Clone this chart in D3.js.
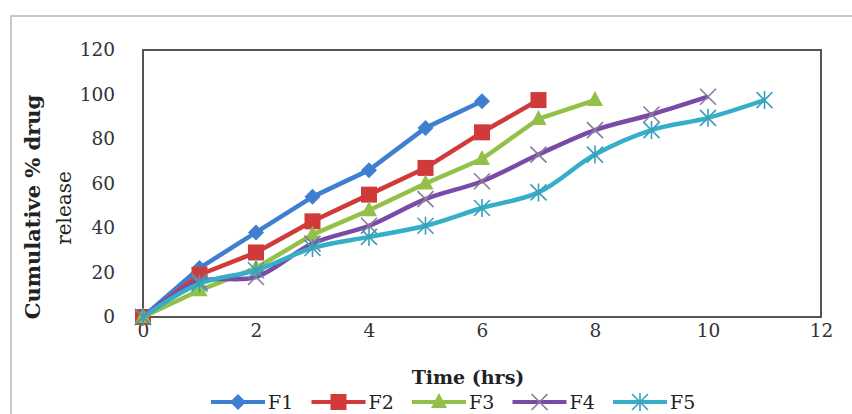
<!DOCTYPE html>
<html><head><meta charset="utf-8">
<script src="https://cdn.jsdelivr.net/npm/d3@7"></script>
<style>html,body{margin:0;padding:0;background:#fff;}svg{display:block;}</style>
</head><body>
<svg id="c" width="852" height="414"></svg>
<script>
const seriesNames = ["F1","F2","F3","F4","F5"];
const F1 = [0,22,38,54,66,85,97];
const F2 = [0,19,29,43,55,67,83,97.5];
const F3 = [0,12,22,37,48,60,71,89,97.5];
const F4 = [0,16,18,33,41,53,61,73,84,91,99];
const F5 = [0,15,21,31,36,41,49,56,73,84,89.5,97.5];
const xTicks = [0,2,4,6,8,10,12];
const yTicks = [0,20,40,60,80,100,120];

const colors = ["#3f7fd0","#d03a3a","#93c049","#7a4aa6","#35aec8"];
const markers = ["diamond","square","triangle","x","star"];
const data = [F1,F2,F3,F4,F5];

const svg = d3.select("#c");
const font = "'DejaVu Serif', serif";
// outer frame
svg.append("rect").attr("x",11).attr("y",16).attr("width",900).attr("height",500)
  .attr("fill","none").attr("stroke","#c8c8c8").attr("stroke-width",2);

const x = d3.scaleLinear().domain([0,12]).range([143,821]);
const y = d3.scaleLinear().domain([0,120]).range([317,50]);

// plot border
svg.append("rect").attr("x",x(0)).attr("y",y(120)).attr("width",x(12)-x(0)).attr("height",y(0)-y(120))
  .attr("fill","none").attr("stroke","#555").attr("stroke-width",2);

// axes
const yAxis = d3.axisLeft(y).tickValues(yTicks).tickSize(0).tickPadding(28);
const gy = svg.append("g").attr("transform",`translate(${x(0)},0)`).call(yAxis);
gy.select(".domain").remove();
gy.selectAll("text").attr("font-family",font).attr("font-size",18.5).attr("fill","#333");

const xAxis = d3.axisBottom(x).tickValues(xTicks).tickSize(0).tickPadding(7);
const gx = svg.append("g").attr("transform",`translate(0,${y(0)})`).call(xAxis);
gx.select(".domain").remove();
gx.selectAll("text").attr("font-family",font).attr("font-size",18.5).attr("fill","#333");

// axis titles
svg.append("text").attr("transform","translate(40,207) rotate(-90)").attr("text-anchor","middle")
  .attr("font-family",font).attr("font-weight","bold").attr("font-size",21).attr("fill","#222")
  .text("Cumulative % drug");
svg.append("text").attr("transform","translate(71,208) rotate(-90)").attr("text-anchor","middle")
  .attr("font-family",font).attr("font-size",20).attr("fill","#222")
  .text("release");
svg.append("text").attr("x",468).attr("y",384).attr("text-anchor","middle")
  .attr("font-family",font).attr("font-weight","bold").attr("font-size",19).attr("fill","#222")
  .text("Time (hrs)");

function drawMarker(g, type, color, cx, cy) {
  if (type === "diamond") {
    g.append("path").attr("d",`M${cx},${cy-8}L${cx+8},${cy}L${cx},${cy+8}L${cx-8},${cy}Z`).attr("fill",color);
  } else if (type === "square") {
    g.append("rect").attr("x",cx-8).attr("y",cy-8).attr("width",16).attr("height",16).attr("fill",color);
  } else if (type === "triangle") {
    g.append("path").attr("d",`M${cx},${cy-9}L${cx+8},${cy+6}L${cx-8},${cy+6}Z`).attr("fill",color);
  } else if (type === "x") {
    g.append("path").attr("d",`M${cx-8},${cy-8}L${cx+8},${cy+8}M${cx-8},${cy+8}L${cx+8},${cy-8}`)
      .attr("stroke","#8a7a9a").attr("stroke-width",1.6).attr("fill","none");
  } else if (type === "star") {
    g.append("path").attr("d",`M${cx-8},${cy-8}L${cx+8},${cy+8}M${cx-8},${cy+8}L${cx+8},${cy-8}M${cx},${cy-9}L${cx},${cy+9}`)
      .attr("stroke","#3a9fb8").attr("stroke-width",1.6).attr("fill","none");
  }
}

const curves = [d3.curveLinear,d3.curveLinear,d3.curveLinear,d3.curveCatmullRom.alpha(0.5),d3.curveCatmullRom.alpha(0.5)];
data.forEach((vals,i)=>{
  const line = d3.line().x((d,j)=>x(j)).y(d=>y(d)).curve(curves[i]);
  const g = svg.append("g");
  g.append("path").datum(vals).attr("d",line).attr("fill","none")
    .attr("stroke",colors[i]).attr("stroke-width",4.5).attr("stroke-linejoin","round");
  vals.forEach((v,j)=>drawMarker(g, markers[i], colors[i], x(j), y(v)));
});

// legend
const legX = d3.scaleLinear().domain([0,4]).range([211,613]);
seriesNames.forEach((n,i)=>{
  const lx = legX(i), ly = 402;
  const g = svg.append("g");
  g.append("line").attr("x1",lx).attr("x2",lx+54).attr("y1",ly).attr("y2",ly)
    .attr("stroke",colors[i]).attr("stroke-width",4);
  drawMarker(g, markers[i], colors[i], lx+27, ly);
  g.append("text").attr("x",lx+57).attr("y",ly+7).attr("font-family",font).attr("font-size",19)
    .attr("fill","#222").text(n);
});
</script>
</body></html>
